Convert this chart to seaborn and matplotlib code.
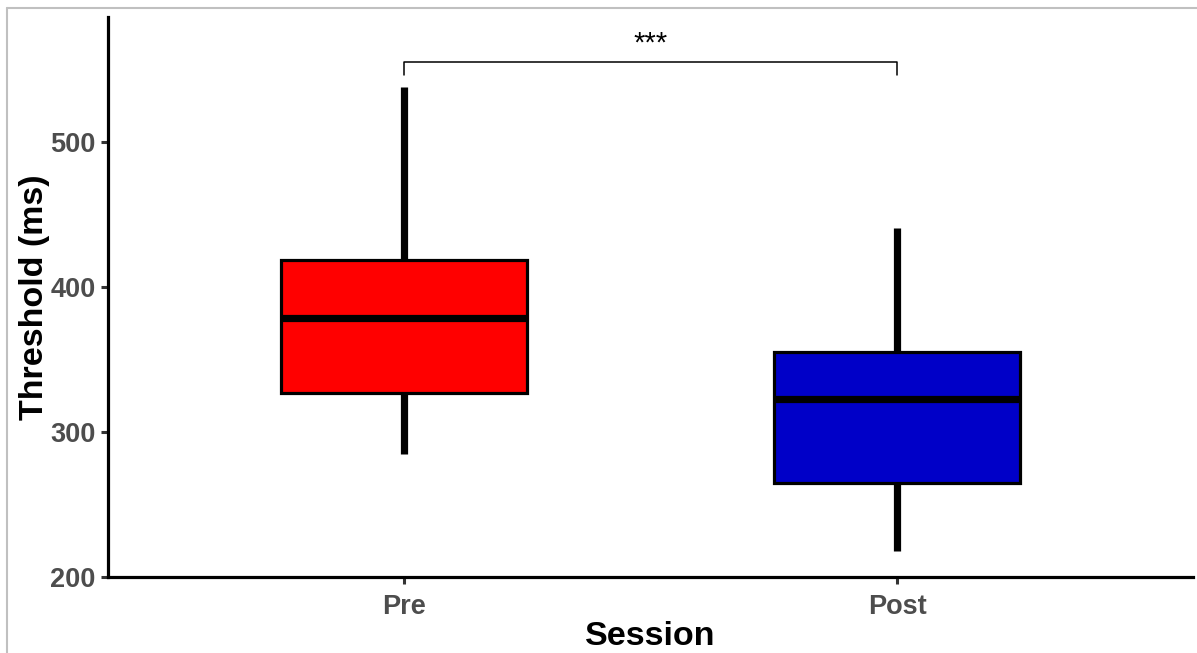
import numpy as np
import pandas as pd
import matplotlib
matplotlib.use("Agg")
import matplotlib.pyplot as plt
from matplotlib.lines import Line2D
import seaborn as sns

# Data: five-number summaries (min, Q1, median, Q3, max)
sessions = ["Pre", "Post"]
pre_values = [284.8, 326.9, 378.6, 418.6, 537.9]
post_values = [217.9, 264.8, 322.8, 355.2, 440.7]
box_colors = ["#FF0000", "#0000C8"]
yticks = [200, 300, 400, 500]
sig_label = "***"
sig_level = 555
sig_drop = 546

df = pd.DataFrame({
    "Session": ["Pre"] * len(pre_values) + ["Post"] * len(post_values),
    "Threshold": pre_values + post_values,
})

sns.set_style("white")
plt.rcParams["font.family"] = ["Liberation Sans", "DejaVu Sans"]

W, H = 1197, 653
fig = plt.figure(figsize=(W / 100, H / 100), dpi=100)
ax = fig.add_axes([108 / W, (H - 577) / H, (1193 - 108) / W, (577 - 17) / H])

sns.boxplot(
    data=df, x="Session", y="Threshold", order=sessions, hue="Session",
    hue_order=sessions, palette=box_colors, saturation=1, legend=False, width=0.5,
    showcaps=False, whis=1.5, ax=ax,
    boxprops=dict(edgecolor="black", linewidth=2.3),
    whiskerprops=dict(color="black", linewidth=5.2, solid_capstyle="butt"),
    medianprops=dict(color="black", linewidth=5.2),
    flierprops=dict(marker="o", markerfacecolor="black", markeredgecolor="black"),
)

ax.set_xlim(-0.6, 1.6)
ax.set_ylim(200, 586.2)
ax.set_yticks(yticks)
ax.set_yticklabels([str(t) for t in yticks])

for side in ["top", "right"]:
    ax.spines[side].set_visible(False)
for side in ["left", "bottom"]:
    ax.spines[side].set_linewidth(2.3)
    ax.spines[side].set_color("black")

ax.tick_params(axis="both", which="major", length=5, width=2.2, color="#333333",
               labelsize=19.5, labelcolor="#4D4D4D", pad=4, left=True, bottom=True)
ax.tick_params(axis="x", pad=7)
for lab in ax.get_xticklabels() + ax.get_yticklabels():
    lab.set_fontweight("bold")

ax.set_xlabel("Session", fontsize=24.5, fontweight="bold", color="black", labelpad=1)
ax.set_ylabel("Threshold (ms)", fontsize=24.5, fontweight="bold", color="black", labelpad=0)

# significance bracket
ax.plot([0, 0, 1, 1], [sig_drop, sig_level, sig_level, sig_drop], color="black",
        linewidth=1.1, clip_on=False)
ax.text(0.5, sig_level + 3, sig_label, ha="center", va="bottom", fontsize=21,
        color="black")

# light grey frame at top and left of the image
fig.add_artist(Line2D([7 / W, 7 / W], [0, 1 - 8 / H], transform=fig.transFigure,
                      color="#C0C0C0", linewidth=1.5))
fig.add_artist(Line2D([7 / W, 1], [1 - 8 / H, 1 - 8 / H], transform=fig.transFigure,
                      color="#C0C0C0", linewidth=1.5))

fig.savefig("out.png", dpi=100)
